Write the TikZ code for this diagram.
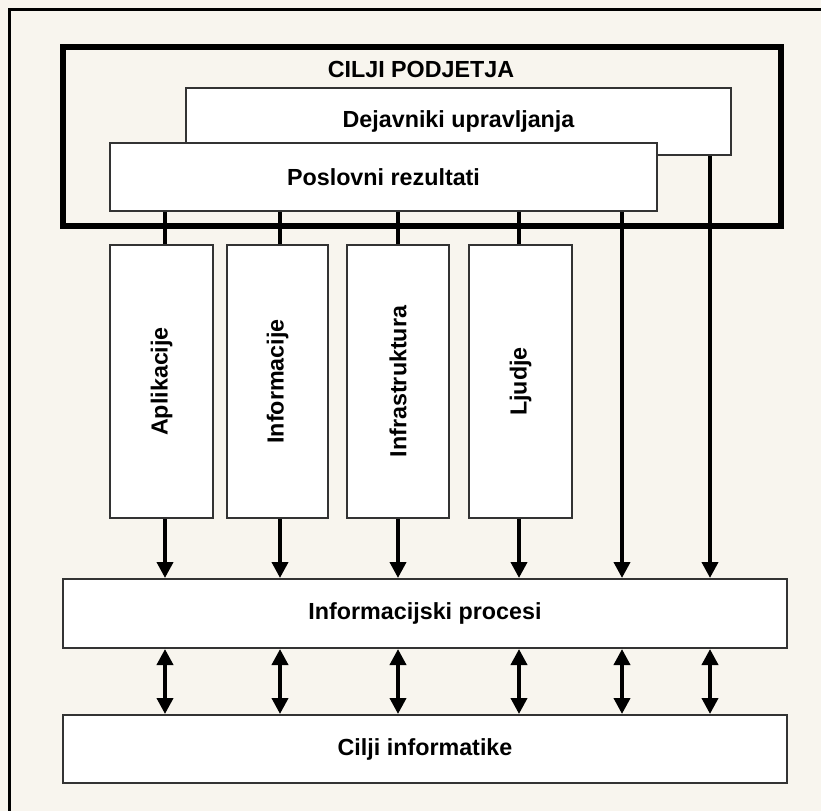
\documentclass[tikz,border=0pt]{standalone}
\usepackage{fontspec}
\setmainfont{Liberation Sans}
\usetikzlibrary{arrows.meta}
\definecolor{paper}{HTML}{F8F5EE}
\definecolor{boxline}{HTML}{333333}
\begin{document}
\begin{tikzpicture}[x=1pt,y=-1pt,
  txt/.style={font=\fontsize{23.3}{28}\selectfont\bfseries, text=black},
  box/.style={txt, draw=boxline, line width=2pt, fill=white, inner sep=0pt},
  goalbox/.style={draw=black, line width=5.5pt, inner sep=0pt},
  conn/.style={line width=3.8pt, draw=black},
  arr/.style={conn, -{Triangle[width=16pt,length=16pt]}},
  darr/.style={conn, {Triangle[width=16pt,length=16pt]}-{Triangle[width=16pt,length=16pt]}}
]
% page and outer frame (only its top and left sides fall on the page)
\useasboundingbox (0,0) rectangle (821,811);
\fill[paper] (0,0) rectangle (821,811);
\draw[black, line width=3pt] (821,9) -- (9,9) -- (9,811);

% company goals frame
\node[goalbox, minimum width=718, minimum height=179] (cp) at (422,136.5) {};
\node[txt] (cpt) at (421,69) {CILJI PODJETJA};

% governance factors and business results
\node[box, minimum width=545, minimum height=67] (du) at (458.5,121.5) {Dejavniki upravljanja};
\node[box, minimum width=547, minimum height=68] (pr) at (383.5,177) {Poslovni rezultati};

% resource columns
\node[box, rotate=90, minimum width=273, minimum height=103] (apl) at (161.5,381.5) {Aplikacije};
\node[box, rotate=90, minimum width=273, minimum height=101] (inf) at (277.5,381.5) {Informacije};
\node[box, rotate=90, minimum width=273, minimum height=102] (ins) at (398,381.5) {Infrastruktura};
\node[box, rotate=90, minimum width=273, minimum height=103] (lju) at (520.5,381.5) {Ljudje};

% processes and IT goals
\node[box, minimum width=724, minimum height=69] (ip) at (425,613.5) {Informacijski procesi};
\node[box, minimum width=724, minimum height=68] (ci) at (425,749) {Cilji informatike};

% connector positions
\coordinate (c1) at (165,0);
\coordinate (c2) at (280,0);
\coordinate (c3) at (398,0);
\coordinate (c4) at (519,0);
\coordinate (c5) at (622,0);
\coordinate (c6) at (710,0);

% results to columns
\draw[conn] (pr.south -| c1) -- (apl.east -| c1);
\draw[conn] (pr.south -| c2) -- (inf.east -| c2);
\draw[conn] (pr.south -| c3) -- (ins.east -| c3);
\draw[conn] (pr.south -| c4) -- (lju.east -| c4);

% columns to processes
\draw[arr] (apl.west -| c1) -- (ip.north -| c1);
\draw[arr] (inf.west -| c2) -- (ip.north -| c2);
\draw[arr] (ins.west -| c3) -- (ip.north -| c3);
\draw[arr] (lju.west -| c4) -- (ip.north -| c4);
\draw[arr] (pr.south -| c5) -- (ip.north -| c5);
\draw[arr] (du.south -| c6) -- (ip.north -| c6);

% processes to IT goals
\foreach \c in {c1,c2,c3,c4,c5,c6}
  \draw[darr] (ip.south -| \c) -- (ci.north -| \c);
\end{tikzpicture}
\end{document}
